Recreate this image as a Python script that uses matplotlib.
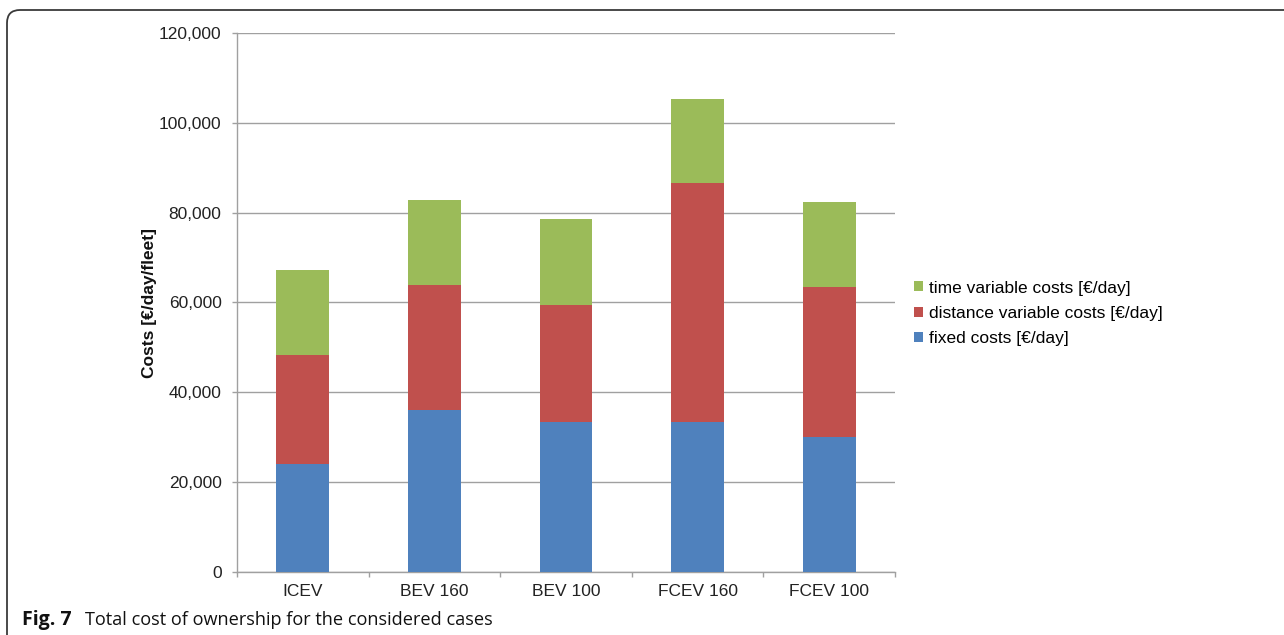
import matplotlib
matplotlib.use('Agg')
import matplotlib.pyplot as plt
from matplotlib.patches import FancyBboxPatch
from matplotlib.ticker import FuncFormatter, FixedLocator
import numpy as np

# данные
cases = ['ICEV', 'BEV 160', 'BEV 100', 'FCEV 160', 'FCEV 100']
fixed_costs = [24100, 36100, 33300, 33300, 30000]
distance_costs = [24200, 27700, 26200, 53200, 33500]
time_costs = [18900, 19100, 19200, 18800, 18800]

series_names = ['fixed costs [€/day]', 'distance variable costs [€/day]', 'time variable costs [€/day]']
colors = ['#4F81BD', '#C0504D', '#9BBB59']

plt.rcParams['font.family'] = ['Liberation Sans', 'DejaVu Sans']

fig = plt.figure(figsize=(12.84, 6.35), dpi=100)
ax = fig.add_axes([237/1284, 1 - 572/635, 658/1284, 539/635])

x = np.arange(len(cases))
bottom = np.zeros(len(cases))
for vals, name, c in zip([fixed_costs, distance_costs, time_costs], series_names, colors):
    ax.bar(x, vals, width=0.4, bottom=bottom, color=c, label=name, zorder=3)
    bottom += np.array(vals)

ax.set_xlim(-0.5, 4.5)
ax.set_ylim(0, 120000)
ax.set_yticks(np.arange(0, 120001, 20000))
ax.yaxis.set_major_formatter(FuncFormatter(lambda v, p: f'{int(v):,}'))
ax.grid(axis='y', color='#a0a0a0', linewidth=1.0, zorder=0)

ax.set_xticks(x)
ax.set_xticklabels(cases)
ax.xaxis.set_minor_locator(FixedLocator(np.arange(-0.5, 5, 1)))
ax.tick_params(axis='x', which='major', length=0, pad=9, labelsize=12.5, colors='#222222')
ax.tick_params(axis='x', which='minor', length=3.6, color='#a0a0a0', width=1)
ax.tick_params(axis='y', length=3.6, color='#a0a0a0', width=1, pad=7.5, labelsize=12.5, labelcolor='#222222')

for side in ['top', 'right']:
    ax.spines[side].set_visible(False)
for side in ['left', 'bottom']:
    ax.spines[side].set_color('#a0a0a0')
    ax.spines[side].set_linewidth(1.0)

ax.set_ylabel('Costs [€/day/fleet]', fontsize=12.5, fontweight='bold', color='#111111')
ax.yaxis.set_label_coords(-0.121, 0.5)

# легенда в обратном порядке (как в Excel)
h, l = ax.get_legend_handles_labels()
fig.legend(h[::-1], l[::-1], loc='center left', bbox_to_anchor=(914/1284, 1 - 313.5/635),
           frameon=False, fontsize=12.5, handlelength=0.5, handleheight=0.5,
           handletextpad=0.35, labelspacing=0.6, borderpad=0, borderaxespad=0)

# рамка с закруглённым углом
box = FancyBboxPatch((0.07, -1.0), 14, 6.25 + 1.0, boxstyle='round,pad=0,rounding_size=0.13',
                     transform=fig.dpi_scale_trans, fill=False, edgecolor='#3a3a3a',
                     linewidth=1.3, clip_on=False)
fig.patches.append(box)

cap_font = ['Open Sans', 'DejaVu Sans']
fig.text(22/1284, 1 - 620/635, 'Fig. 7', fontsize=14, fontweight='bold', family=cap_font,
         va='center', ha='left', color='#111111')
fig.text(85/1284, 1 - 620/635, 'Total cost of ownership for the considered cases', fontsize=13.05,
         family=cap_font, va='center', ha='left', color='#111111')

fig.savefig('out.png', dpi=100)
